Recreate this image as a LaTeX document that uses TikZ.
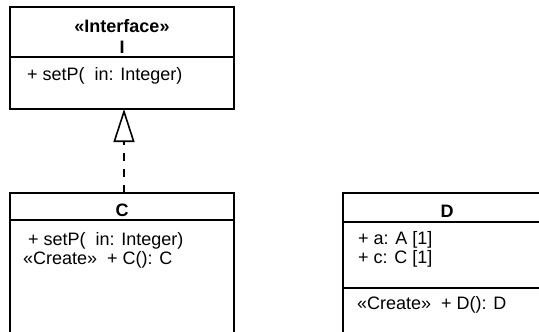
\documentclass[tikz,border=0pt]{standalone}
\usepackage{fontspec}
\setmainfont{Liberation Sans}
\usetikzlibrary{arrows.meta}
\begin{document}
\begin{tikzpicture}[x=1pt,y=-1pt,
  umlbox/.style={draw=black, line width=1.6pt, rectangle, inner sep=0pt, outer sep=0pt},
  sep/.style={draw=black, line width=1.6pt},
  txt/.style={anchor=base west, inner sep=0pt, font=\fontsize{18}{21}\selectfont},
  ttl/.style={anchor=base, inner sep=0pt, font=\fontsize{18}{21}\selectfont\bfseries},
  realize/.style={draw=black, line width=1.6pt, dash pattern=on 8pt off 8pt,
    -{Triangle[open, length=33pt, width=21pt, line width=1.6pt]}}]
\useasboundingbox (0,0) rectangle (539,332);
\clip (0,0) rectangle (539,332);
% Interface I
\node[umlbox, minimum width=224pt, minimum height=102pt] (I) at (122,58) {};
\draw[sep] (10,57) -- (234,57);
\node[ttl] (It1) at (122,32) {«Interface»};
\node[ttl] (It2) at (122,53) {I};
\node[txt] (Iop) at (27,80) {+ setP(\ \ in: Integer)};
% Class C
\node[umlbox, minimum width=224pt, minimum height=160pt] (C) at (122,273) {};
\draw[sep] (10,220) -- (234,220);
\node[ttl] (Ct) at (122,216) {C};
\node[txt] (Cop1) at (28,245) {+ setP(\ \ in: Integer)};
\node[txt] (Cop2) at (23,264) {«Create»\ \ + C(): C};
% Class D
\node[umlbox, minimum width=208pt, minimum height=160pt] (D) at (447,273) {};
\draw[sep] (343,222) -- (551,222);
\draw[sep] (343,288) -- (551,288);
\node[ttl] (Dt) at (447,217) {D};
\node[txt] (Da1) at (358,244) {+ a: A [1]};
\node[txt] (Da2) at (358,263) {+ c: C [1]};
\node[txt] (Dop) at (357,309) {«Create»\ \ + D(): D};
% realization
\draw[realize] (C.north -| 124,0) -- (I.south -| 124,0);
\end{tikzpicture}
\end{document}
